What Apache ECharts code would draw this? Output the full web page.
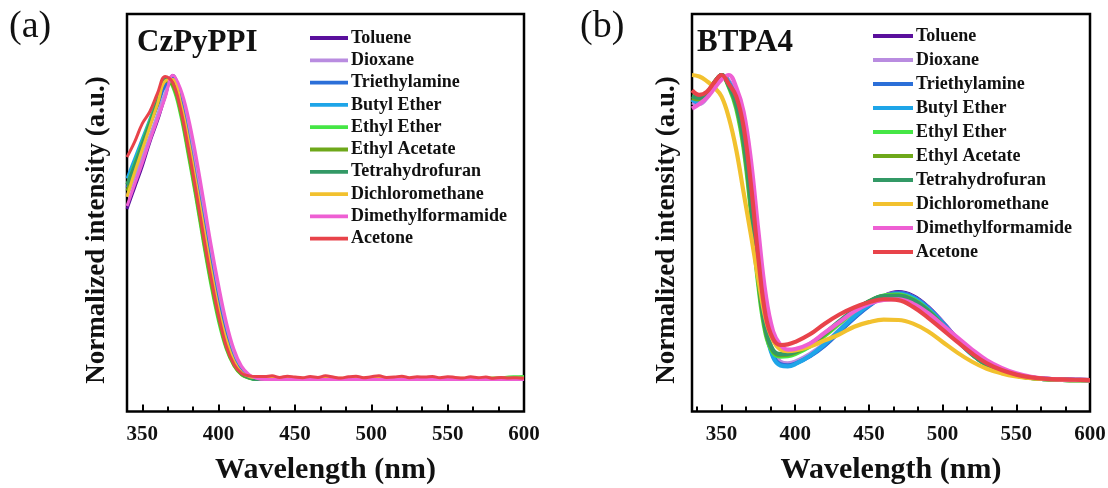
<!DOCTYPE html>
<html>
<head>
<meta charset="utf-8">
<script src="https://cdn.jsdelivr.net/npm/echarts@6/dist/echarts.min.js"></script>
<style>
  html, body { margin: 0; padding: 0; background: #fff; }
  #chart { width: 1108px; height: 488px; }
</style>
</head>
<body>
<div id="chart"></div>
<script>
// Solvent names (legend order) and line colours
const solvents = ['Toluene', 'Dioxane', 'Triethylamine', 'Butyl Ether', 'Ethyl Ether',
  'Ethyl Acetate', 'Tetrahydrofuran', 'Dichloromethane', 'Dimethylformamide', 'Acetone'];
const colors = ['#5a0f9c', '#b98ce0', '#2b6fd8', '#1ea5e8', '#45e645',
  '#6ea81a', '#339966', '#f2c12e', '#ee5fd3', '#e8434a'];

// Axis tick labels (nm)
const xTicks = [350, 400, 450, 500, 550, 600];

// (a) CzPyPPI — wavelength grid 340..600 nm, 5 nm steps
const wlA = [340,345,350,355,360,365,370,375,380,385,390,395,400,405,410,415,420,425,430,435,
  440,445,450,455,460,465,470,475,480,485,490,495,500,505,510,515,520,525,530,535,
  540,545,550,555,560,565,570,575,580,585,590,595,600];
const a_Toluene = [0.56,0.63,0.70,0.78,0.85,0.93,0.998,0.94,0.84,0.71,0.565,0.415,0.285,0.17,0.088,0.036,0.012,0.002,0,0,
  0,0,0,0,0,0,0,0,0,0,0,0,0,0,0,0,0,0,0,0,0,0,0,0,0,0,0,0,0,0,0,0,0];
const a_Dioxane = [0.60,0.665,0.73,0.80,0.87,0.94,0.995,0.935,0.83,0.69,0.55,0.40,0.27,0.16,0.08,0.032,0.011,0.002,0,0,
  0,0,0,0,0,0,0,0,0,0,0,0,0,0,0,0,0,0,0,0,0,0,0,0,0,0,0,0,0,0,0,0,0];
const a_Triethylamine = [0.63,0.70,0.765,0.835,0.90,0.965,0.99,0.92,0.80,0.66,0.52,0.375,0.245,0.14,0.065,0.026,0.008,0.001,0,0,
  0,0,0,0,0,0,0,0,0,0,0,0,0,0,0,0,0,0,0,0,0,0,0,0,0,0,0,0,0,0,0,0,0];
const a_ButylEther = [0.66,0.725,0.79,0.855,0.92,0.985,0.98,0.90,0.78,0.64,0.49,0.35,0.22,0.12,0.055,0.02,0.006,0,0,0,
  0,0,0,0,0,0,0,0,0,0,0,0,0,0,0,0,0,0,0,0,0,0,0,0,0,0,0,0,0,0,0,0,0];
const a_EthylEther = [0.64,0.71,0.78,0.85,0.92,0.99,0.96,0.87,0.74,0.60,0.45,0.31,0.19,0.10,0.045,0.015,0.004,0,0,0,
  0,0,0,0,0,0,0,0,0,0,0,0,0,0,0,0,0,0,0,0,0,0,0,0,0.001,0.002,0.003,0.004,0.005,0.006,0.008,0.009,0.01];
const a_EthylAcetate = [0.62,0.69,0.76,0.835,0.905,0.98,0.965,0.88,0.75,0.61,0.46,0.32,0.20,0.105,0.047,0.016,0.005,0,0,0,
  0,0,0,0,0,0,0,0,0,0,0,0,0,0,0,0,0,0,0,0,0,0,0,0,0,0,0,0,0,0,0,0,0];
const a_THF = [0.64,0.705,0.775,0.845,0.915,0.985,0.98,0.90,0.78,0.64,0.49,0.35,0.22,0.12,0.055,0.02,0.006,0,0,0,
  0,0,0,0,0,0,0,0,0,0,0,0,0,0,0,0,0,0,0,0,0,0,0,0,0,0,0,0,0,0,0,0,0];
const a_DCM = [0.60,0.68,0.755,0.83,0.905,0.98,0.985,0.91,0.79,0.65,0.505,0.36,0.23,0.13,0.06,0.023,0.01,0.006,0.005,0.005,
  0.004,0.005,0.004,0.004,0.005,0.004,0.004,0.005,0.004,0.004,0.004,0.005,0.004,0.004,0.004,0.004,0.005,0.004,0.004,0.004,
  0.004,0.004,0.004,0.004,0.004,0.004,0.004,0.004,0.004,0.004,0.004,0.004,0.004];
const a_DMF = [0.57,0.64,0.71,0.785,0.855,0.925,0.999,0.955,0.865,0.74,0.595,0.445,0.31,0.19,0.10,0.044,0.016,0.004,0,0,
  0,0,0,0,0,0,0,0,0,0,0,0,0,0,0,0,0,0,0,0,0,0,0,0,0,0,0,0,0,0,0,0,0];
const a_Acetone = [0.73,0.78,0.84,0.88,0.94,0.995,0.975,0.89,0.765,0.625,0.475,0.335,0.21,0.11,0.05,0.02,0.012,0.01,0.01,0.012,
  0.007,0.011,0.008,0.006,0.01,0.007,0.012,0.008,0.005,0.009,0.011,0.006,0.009,0.012,0.007,0.008,0.011,0.006,0.009,0.008,
  0.01,0.006,0.009,0.007,0.005,0.009,0.006,0.008,0.004,0.007,0.005,0.006,0.004];
const seriesA = [a_Toluene, a_Dioxane, a_Triethylamine, a_ButylEther, a_EthylEther,
  a_EthylAcetate, a_THF, a_DCM, a_DMF, a_Acetone];

// (b) BTPA4 — wavelength grid 330..400 nm (5 nm) then 410..600 nm (10 nm)
const wlB = [330,335,340,345,350,355,360,365,370,375,380,385,390,395,400,
  410,420,430,440,450,460,470,480,490,500,510,520,530,540,550,560,570,580,590,600];
const b_Toluene = [0.92,0.91,0.93,0.97,1.0,0.98,0.93,0.83,0.63,0.38,0.18,0.085,0.055,0.05,0.056,
  0.08,0.115,0.16,0.205,0.245,0.275,0.288,0.275,0.24,0.19,0.135,0.085,0.05,0.03,0.016,0.008,0.004,0.002,0.001,0];
const b_Dioxane = [0.91,0.905,0.925,0.965,0.995,0.98,0.93,0.83,0.635,0.385,0.185,0.09,0.06,0.055,0.06,
  0.085,0.12,0.165,0.21,0.248,0.275,0.285,0.272,0.238,0.19,0.135,0.087,0.052,0.03,0.016,0.008,0.004,0.002,0.001,0];
const b_Triethylamine = [0.92,0.91,0.93,0.97,1.0,0.975,0.925,0.82,0.62,0.37,0.17,0.08,0.052,0.048,0.054,
  0.078,0.113,0.158,0.203,0.243,0.273,0.286,0.273,0.238,0.188,0.133,0.084,0.05,0.029,0.015,0.008,0.004,0.002,0.001,0];
const b_ButylEther = [0.92,0.91,0.93,0.97,1.0,0.975,0.92,0.81,0.61,0.36,0.165,0.075,0.048,0.045,0.052,
  0.08,0.118,0.163,0.208,0.246,0.272,0.282,0.27,0.235,0.185,0.13,0.083,0.049,0.028,0.015,0.007,0.003,0.001,0,0];
const b_EthylEther = [0.93,0.925,0.94,0.975,1.0,0.96,0.89,0.76,0.55,0.31,0.15,0.09,0.077,0.078,0.085,
  0.11,0.145,0.185,0.225,0.257,0.277,0.28,0.265,0.23,0.18,0.13,0.085,0.05,0.028,0.014,0.007,0.003,0.001,0,0];
const b_EthylAcetate = [0.925,0.92,0.935,0.97,1.0,0.965,0.9,0.775,0.565,0.325,0.16,0.095,0.082,0.083,0.09,
  0.115,0.15,0.19,0.228,0.257,0.275,0.277,0.262,0.228,0.18,0.13,0.085,0.05,0.028,0.014,0.007,0.003,0.001,0,0];
const b_THF = [0.93,0.925,0.94,0.975,1.0,0.965,0.905,0.785,0.58,0.34,0.165,0.098,0.085,0.086,0.093,
  0.118,0.153,0.193,0.23,0.258,0.275,0.276,0.262,0.228,0.18,0.13,0.086,0.051,0.029,0.015,0.007,0.003,0.001,0,0];
const b_DCM = [1.0,0.995,0.98,0.96,0.93,0.86,0.755,0.615,0.475,0.33,0.2,0.13,0.1,0.095,0.097,
  0.11,0.13,0.15,0.175,0.19,0.198,0.197,0.185,0.16,0.125,0.09,0.06,0.037,0.022,0.012,0.006,0.003,0.001,0,0];
const b_DMF = [0.89,0.905,0.925,0.955,0.985,1.0,0.96,0.88,0.72,0.49,0.28,0.16,0.115,0.10,0.102,
  0.12,0.155,0.19,0.225,0.25,0.263,0.265,0.25,0.22,0.18,0.14,0.10,0.065,0.04,0.022,0.011,0.005,0.002,0.001,0];
const b_Acetone = [0.95,0.935,0.945,0.975,1.0,0.97,0.93,0.83,0.64,0.40,0.21,0.135,0.115,0.117,0.125,
  0.15,0.185,0.215,0.238,0.255,0.265,0.262,0.24,0.205,0.165,0.125,0.087,0.055,0.033,0.018,0.009,0.004,0.002,0.001,0];
const seriesB = [b_Toluene, b_Dioxane, b_Triethylamine, b_ButylEther, b_EthylEther,
  b_EthylAcetate, b_THF, b_DCM, b_DMF, b_Acetone];

const FONT = '"Liberation Serif", "Times New Roman", serif';

// minor ticks: two per 50 nm interval
function minorTicks(min, max) {
  const out = [];
  for (let i = 0; i < xTicks.length; i++) {
    const base = xTicks[i] - 50;
    [base + 50 / 3, base + 100 / 3].forEach(v => { if (v > min && v < max) out.push(v); });
  }
  return out;
}

const panels = [
  { left: 127, right: 584, xMin: 340, yMin: -0.105, yMax: 1.2, wl: wlA, data: seriesA, lw: 3,
    legendLeft: 310, legendTop: 29, legendGap: 4.3, itemW: 38, yTitleX: 97 },
  { left: 692, right: 18, xMin: 330, yMin: -0.103, yMax: 1.2, wl: wlB, data: seriesB, lw: 4.2,
    legendLeft: 873, legendTop: 27, legendGap: 6, itemW: 40, yTitleX: 667 }
];
const gridTop = 14, gridBottom = 76.5, gridH = 488 - gridTop - gridBottom;

const grid = [], xAxis = [], yAxis = [], series = [], legend = [];
panels.forEach((p, gi) => {
  grid.push({ left: p.left, right: p.right, top: gridTop, bottom: gridBottom, show: true,
    outerBoundsMode: 'none', containLabel: false,
    borderColor: '#000', borderWidth: 2.5, backgroundColor: 'transparent' });
  // main wavelength axis with labels and major ticks
  xAxis.push({
    type: 'value', gridIndex: gi, min: p.xMin, max: 600, position: 'bottom',
    name: 'Wavelength (nm)', nameLocation: 'middle', nameGap: 44,
    nameTextStyle: { fontFamily: FONT, fontWeight: 'bold', fontSize: 30, color: '#111' },
    axisLine: { show: false, onZero: false },
    axisTick: { show: true, inside: true, length: 7, lineStyle: { color: '#000', width: 2 }, customValues: xTicks },
    axisLabel: { show: true, margin: 13, fontFamily: FONT, fontWeight: 'bold', fontSize: 21, color: '#111',
      customValues: xTicks },
    splitLine: { show: false },
    z: 10
  });
  // minor ticks, drawn by a label-less axis moved onto the bottom edge
  xAxis.push({
    type: 'value', gridIndex: gi, min: p.xMin, max: 600, position: 'top', offset: -gridH,
    axisLine: { show: false, onZero: false },
    axisTick: { show: true, inside: false, length: 5, lineStyle: { color: '#000', width: 2 },
      customValues: minorTicks(p.xMin, 600) },
    axisLabel: { show: false },
    splitLine: { show: false },
    z: 10
  });
  yAxis.push({
    type: 'value', gridIndex: gi, min: p.yMin, max: p.yMax,
    axisLine: { show: false, onZero: false }, axisTick: { show: false }, axisLabel: { show: false }, splitLine: { show: false }
  });
  solvents.forEach((name, si) => {
    series.push({
      type: 'line', name: name, xAxisIndex: gi * 2, yAxisIndex: gi,
      data: p.wl.map((w, k) => [w, p.data[si][k]]),
      showSymbol: false, symbol: 'none', smooth: 0.4,
      lineStyle: { color: colors[si], width: p.lw }, itemStyle: { color: colors[si] },
      z: 2 + si, animation: false
    });
  });
  legend.push({
    data: solvents, orient: 'vertical', left: p.legendLeft, top: p.legendTop, padding: 0,
    itemWidth: p.itemW, itemHeight: 14, itemGap: p.legendGap, selectedMode: false,
    icon: 'path://M0,0 L10,0 L10,1 L0,1 Z',
    textStyle: { fontFamily: FONT, fontWeight: 'bold', fontSize: 18, color: '#111', lineHeight: 18, padding: [0, 0, 0, -2] }
  });
});

const yTitle = 'Normalized intensity (a.u.)';
const chart = echarts.init(document.getElementById('chart'), null, { renderer: 'canvas' });
chart.setOption({
  animation: false,
  backgroundColor: '#fff',
  grid, xAxis, yAxis, series, legend,
  graphic: [
    { type: 'text', left: 9, top: 8, style: { text: '(a)', font: '38px ' + FONT, fill: '#111' } },
    { type: 'text', left: 580, top: 8, style: { text: '(b)', font: '38px ' + FONT, fill: '#111' } },
    { type: 'text', left: 137, top: 27, style: { text: 'CzPyPPI', font: 'bold 31px ' + FONT, fill: '#111' } },
    { type: 'text', left: 697, top: 27, style: { text: 'BTPA4', font: 'bold 31px ' + FONT, fill: '#111' } },
    ...panels.map(p => ({
      type: 'text', x: p.yTitleX, y: 230, rotation: Math.PI / 2,
      style: { text: yTitle, font: 'bold 27px ' + FONT, fill: '#111', textAlign: 'center', textVerticalAlign: 'middle' }
    }))
  ]
});
</script>
</body>
</html>
